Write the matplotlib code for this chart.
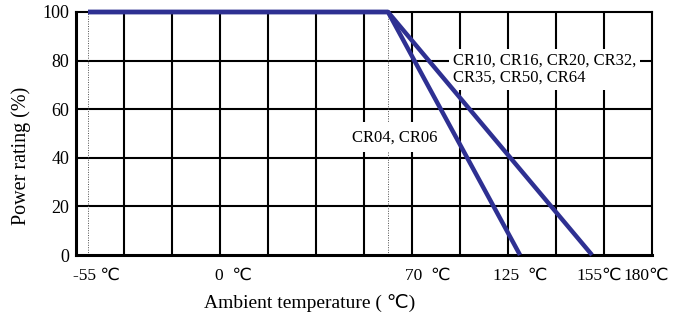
import matplotlib

matplotlib.use("Agg")
import matplotlib.pyplot as plt
from matplotlib.transforms import offset_copy

# derating curves: (temperature degC, power rating %)
T_SHORT = [-55, 70, 125]
P_SHORT = [100, 100, 0]
T_LONG = [-55, 70, 155]
P_LONG = [100, 100, 0]

XTICKS = [-55, 0, 70, 125, 155, 180]
XTICK_LABELS = ["-55 \u2103", "0  \u2103", "70  \u2103", "125  \u2103", "155\u2103", "180\u2103"]
YTICKS = [0, 20, 40, 60, 80, 100]

LABEL_LONG = "CR10, CR16, CR20, CR32,\nCR35, CR50, CR64"
LABEL_SHORT = "CR04, CR06"

BLUE = "#2e3092"
FONT = ["Liberation Serif", "DejaVu Sans"]


def main() -> None:
    plt.rcParams["font.family"] = FONT
    fig = plt.figure(figsize=(6.94, 3.16), dpi=100)
    ax = fig.add_axes([76 / 694, 1 - 255 / 316, 576 / 694, 243 / 316])

    ax.set_xlim(-60, 180)
    ax.set_ylim(0, 100)

    # black grid every 20 degC / 20 %
    for x in range(-40, 180, 20):
        ax.axvline(x, color="black", lw=1.5, zorder=1)
    for y in range(20, 100, 20):
        ax.axhline(y, color="black", lw=1.5, zorder=1)
    for x in (-55, 70):
        ax.axvline(x, color="0.3", lw=0.7, ls=(0, (1, 1.5)), zorder=1)

    ax.plot(T_LONG, P_LONG, color=BLUE, lw=3.2, solid_capstyle="butt", zorder=4, clip_on=False)
    ax.plot(T_SHORT, P_SHORT, color=BLUE, lw=3.2, solid_capstyle="butt", zorder=4, clip_on=False)

    box = dict(facecolor="white", edgecolor="none", pad=3)
    ax.text(97, 76.5, LABEL_LONG, fontsize=12, ha="left", va="center",
            linespacing=1.05, bbox=box, zorder=3)
    ax.text(73, 48.5, LABEL_SHORT, fontsize=12, ha="center", va="center",
            bbox=dict(facecolor="white", edgecolor="none", pad=5), zorder=3)

    for s in ax.spines.values():
        s.set_color("black")
        s.set_linewidth(1.5)
        s.set_zorder(2)
    ax.spines["left"].set_linewidth(2.2)
    ax.spines["bottom"].set_linewidth(2.2)

    ax.set_xticks(XTICKS)
    ax.set_xticklabels(XTICK_LABELS, fontsize=12.5)
    ax.set_yticks(YTICKS)
    ax.set_yticklabels([str(v) for v in YTICKS], fontsize=13)
    ax.tick_params(length=0, pad=5)
    ax.tick_params(axis="x", pad=9)

    # nudge x tick labels horizontally (pixels) like the original layout
    nudges = [8, 13, 40, 0, 7, -6]
    for lab, dx in zip(ax.get_xticklabels(), nudges):
        lab.set_transform(offset_copy(lab.get_transform(), fig=fig, x=dx, y=0, units="dots"))

    ax.set_xlabel("Ambient temperature ( \u2103)", fontsize=14)
    ax.xaxis.set_label_coords(0.405, -0.16)
    ax.set_ylabel("Power rating (%)", fontsize=14.5)
    ax.yaxis.set_label_coords(-0.078, 0.407)

    fig.savefig("out.png", dpi=100)
    plt.close(fig)


if __name__ == "__main__":
    main()
